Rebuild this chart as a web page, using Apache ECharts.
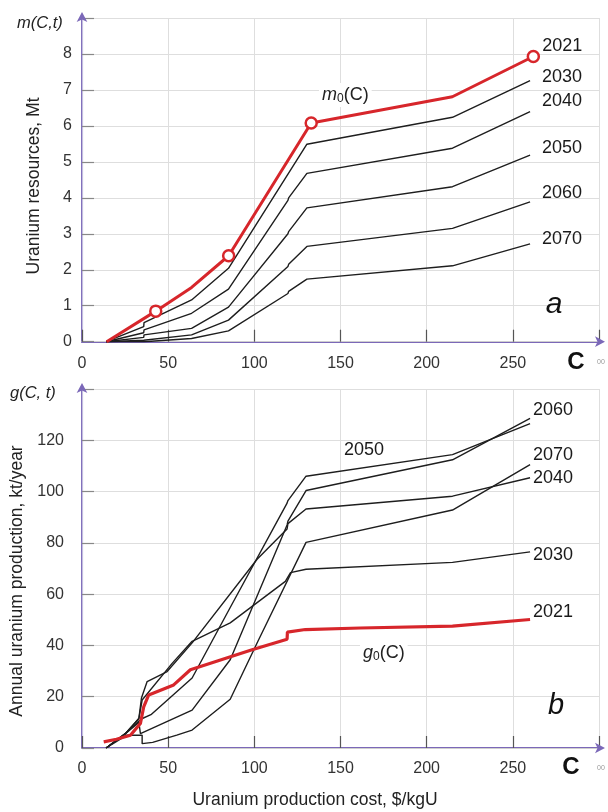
<!DOCTYPE html>
<html><head><meta charset="utf-8">
<script src="https://cdn.jsdelivr.net/npm/echarts@6/dist/echarts.min.js"></script>
<style>html,body{margin:0;padding:0;background:#fff}#c{width:608px;height:812px}</style>
</head><body><div id="c"></div><script>
// ---------- Panel a: uranium resources m(C,t), Mt ----------
const aC_2021 = [14.3, 42.8, 63.6, 85.1, 133, 214.9, 261.9];
const aM_2021 = [0, 0.85, 1.51, 2.39, 6.08, 6.81, 7.93];
const aMarkIdx_2021 = [1, 3, 4, 6];
const aC_2030 = [14, 35.8, 36, 63.6, 85, 130.5, 215, 260];
const aM_2030 = [0, 0.42, 0.53, 1.16, 2.04, 5.49, 6.24, 7.26];
const aC_2040 = [14, 35.8, 36, 63.6, 85, 119.5, 119.9, 130.5, 215, 260];
const aM_2040 = [0, 0.25, 0.33, 0.79, 1.46, 3.93, 4.0, 4.68, 5.38, 6.40];
const aC_2050 = [14, 35.8, 36, 63.6, 85, 119.5, 119.9, 130.5, 215, 260];
const aM_2050 = [0, 0.12, 0.19, 0.37, 0.96, 3.0, 3.06, 3.72, 4.31, 5.19];
const aC_2060 = [14, 35.8, 36, 63.6, 85, 119.5, 119.9, 130.5, 215, 260];
const aM_2060 = [0, 0.04, 0.08, 0.19, 0.60, 2.09, 2.15, 2.65, 3.15, 3.89];
const aC_2070 = [14, 35.8, 36, 63.6, 85, 119.5, 119.9, 130.5, 215, 260];
const aM_2070 = [0, 0, 0.03, 0.09, 0.30, 1.34, 1.40, 1.74, 2.11, 2.72];

// ---------- Panel b: annual uranium production g(C,t), kt/year ----------
const bC_2021 = [12.6, 20, 28.1, 33.9, 35.8, 38.7, 53.2, 62.9, 98.7, 119, 119.2, 129.6, 161.4, 215, 260];
const bG_2021 = [2.4, 3.4, 5, 9.6, 16, 20.7, 24.6, 30.5, 38.3, 42.4, 45.2, 46.2, 46.8, 47.5, 50.1];
const bC_2030 = [14, 25, 33, 34.9, 52.3, 63.9, 86, 118, 121, 130, 215, 260];
const bG_2030 = [0, 5.5, 11.5, 18.7, 33, 41.6, 48.8, 65, 68.4, 69.7, 72.4, 76.5];
const bC_2040 = [14, 25, 33, 34.5, 37.8, 49.4, 63.9, 101.6, 119, 119.5, 130, 215, 260];
const bG_2040 = [0, 5.5, 11.5, 19.5, 25.9, 29.8, 41, 73.6, 85.4, 87.5, 93.2, 98.2, 105.4];
const bC_2050 = [14, 25, 33, 35, 40, 63.9, 86, 119, 119.5, 130, 215, 260];
const bG_2050 = [0, 5.5, 10.5, 11.5, 13, 27.3, 54.8, 95.5, 96.5, 106, 114.4, 126.5];
const bC_2060 = [14, 25, 33, 33.9, 33.9, 63.9, 86, 119, 119.5, 130, 215, 260];
const bG_2060 = [0, 5.5, 10, 10.3, 5.6, 14.8, 34.4, 87, 88.5, 100.4, 112.4, 128.5];
const bC_2070 = [14, 26, 34.9, 34.9, 41, 55, 63.9, 86, 102.5, 130, 215, 260];
const bG_2070 = [0, 5, 5, 1.7, 2.2, 5, 7, 19, 42.2, 80.2, 92.8, 110.5];

// ---------- Axes ----------
const xTicksMax = 300, xInterval = 50;
const aYMax = 9, aYInterval = 1;
const bYMax = 140, bYInterval = 20;

const FONT = '"Liberation Sans", Arial, sans-serif';
const PURPLE = '#7b68b8';
const RED = '#d7262b';
const BLACK = '#1e1e1e';

const zip = (xs, ys) => xs.map((x, i) => [x, ys[i]]);

function blackLine(name, xs, ys, gi, dx, dy, fs) {
  return {
    name, type: 'line', xAxisIndex: gi * 2, yAxisIndex: gi * 2,
    data: zip(xs, ys), symbol: 'none', z: 3,
    lineStyle: { color: BLACK, width: 1.4 },
    endLabel: { show: true, formatter: name, distance: 0, offset: [dx, dy], align: 'left',
      verticalAlign: 'middle', color: '#1a1a1a', fontSize: fs, fontFamily: FONT }
  };
}

function xAxes(gi, margin) {
  return [{
    gridIndex: gi, type: 'value', min: 0, max: xTicksMax, interval: xInterval,
    axisLine: { show: true, onZero: false, symbol: ['none', 'arrow'], symbolSize: [8, 10], symbolOffset: [0, 6],
      lineStyle: { color: PURPLE, width: 2 } },
    axisTick: { show: true, inside: true, length: 12, lineStyle: { color: '#555', width: 1.2 } },
    axisLabel: { formatter: v => (v === xTicksMax ? '' : v), fontSize: 16, color: '#333', margin, fontFamily: FONT },
    splitLine: { show: true, lineStyle: { color: '#dedede', width: 1 } }
  }, {
    gridIndex: gi, type: 'value', position: 'top', min: 0, max: xTicksMax,
    axisLine: { show: true, lineStyle: { color: '#cfcfcf', width: 1.2 } },
    axisTick: { show: false }, axisLabel: { show: false }, splitLine: { show: false }
  }];
}
function yAxes(gi, max, interval, margin) {
  return [{
    gridIndex: gi, type: 'value', min: 0, max, interval,
    axisLine: { show: true, onZero: false, symbol: ['none', 'arrow'], symbolSize: [8, 10], symbolOffset: [0, 6],
      lineStyle: { color: PURPLE, width: 2 } },
    axisTick: { show: true, inside: true, length: 12, lineStyle: { color: '#888', width: 1.2 } },
    axisLabel: { formatter: v => (v === max ? '' : v), fontSize: 16, color: '#333', margin, fontFamily: FONT },
    splitLine: { show: true, lineStyle: { color: '#dedede', width: 1 } }
  }, {
    gridIndex: gi, type: 'value', position: 'right', min: 0, max,
    axisLine: { show: true, lineStyle: { color: '#c4bedf', width: 1.2 } },
    axisTick: { show: false }, axisLabel: { show: false }, splitLine: { show: false }
  }];
}

const txt = (x, y, text, extra) => ({ type: 'text', x, y, z: 50,
  style: Object.assign({ text, fontFamily: FONT, fontSize: 17, fill: '#222', textVerticalAlign: 'middle' }, extra) });

const chart = echarts.init(document.getElementById('c'), null, { renderer: 'canvas' });
chart.setOption({
  animation: false,
  backgroundColor: '#fff',
  grid: [
    { left: 82, right: 9, top: 18, height: 323.7 },
    { left: 82, right: 9, top: 389, height: 359 }
  ],
  xAxis: [...xAxes(0, 14), ...xAxes(1, 13)],
  yAxis: [...yAxes(0, aYMax, aYInterval, 10), ...yAxes(1, bYMax, bYInterval, 18)],
  series: [
    blackLine('2030', aC_2030, aM_2030, 0, 12, -4, 18),
    blackLine('2040', aC_2040, aM_2040, 0, 12, -10, 18),
    blackLine('2050', aC_2050, aM_2050, 0, 12, -7, 18),
    blackLine('2060', aC_2060, aM_2060, 0, 12, -9, 18),
    blackLine('2070', aC_2070, aM_2070, 0, 12, -5, 18),
    {
      name: '2021', type: 'line', xAxisIndex: 0, yAxisIndex: 0, data: zip(aC_2021, aM_2021),
      symbol: 'none', z: 5, lineStyle: { color: RED, width: 3 },
      endLabel: { show: true, formatter: '2021', distance: 0, offset: [9, -10], align: 'left',
        verticalAlign: 'middle', color: '#1a1a1a', fontSize: 18, fontFamily: FONT }
    },
    {
      type: 'scatter', xAxisIndex: 0, yAxisIndex: 0, z: 6,
      data: aMarkIdx_2021.map(i => [aC_2021[i], aM_2021[i]]),
      symbol: 'circle', symbolSize: 11,
      itemStyle: { color: '#fff', borderColor: RED, borderWidth: 2.5, opacity: 1 }
    },
    blackLine('2030', bC_2030, bG_2030, 1, 3, 3, 18),
    blackLine('2040', bC_2040, bG_2040, 1, 3, 0, 18),
    Object.assign(blackLine('2050', bC_2050, bG_2050, 1, 3, 0, 18), { endLabel: { show: false } }),
    blackLine('2060', bC_2060, bG_2060, 1, 3, -8, 18),
    blackLine('2070', bC_2070, bG_2070, 1, 3, -10, 18),
    {
      name: '2021', type: 'line', xAxisIndex: 2, yAxisIndex: 2, data: zip(bC_2021, bG_2021),
      symbol: 'none', z: 5, lineStyle: { color: RED, width: 3.2 },
      endLabel: { show: true, formatter: '2021', distance: 0, offset: [3, -7], align: 'left',
        verticalAlign: 'middle', color: '#1a1a1a', fontSize: 18, fontFamily: FONT }
    }
  ],
  graphic: [
    // axis names
    txt(17, 23, '', { text: '{i|m}(C,{i|t})', rich: { i: { fontStyle: 'italic', fontSize: 16.5, fontFamily: FONT } }, fontSize: 16.5, fontStyle: 'italic' }),
    txt(10, 393, '', { text: '{i|g}(C, {i|t})', rich: { i: { fontStyle: 'italic', fontSize: 16.5, fontFamily: FONT } }, fontSize: 16.5, fontStyle: 'italic' }),
    { type: 'text', x: 34, y: 186, rotation: Math.PI / 2, z: 50,
      style: { text: 'Uranium resources, Mt', fontFamily: FONT, fontSize: 17.5, fill: '#222', textAlign: 'center', textVerticalAlign: 'middle' } },
    { type: 'text', x: 17, y: 581, rotation: Math.PI / 2, z: 50,
      style: { text: 'Annual uranium production, kt/year', fontFamily: FONT, fontSize: 17.5, fill: '#222', textAlign: 'center', textVerticalAlign: 'middle' } },
    txt(315, 800, 'Uranium production cost, $/kgU', { textAlign: 'center', fontSize: 17.5 }),
    // C axis symbol
    txt(576, 362, 'C', { textAlign: 'center', fontSize: 24, fontWeight: 'bold', fill: '#111' }),
    txt(571, 767, 'C', { textAlign: 'center', fontSize: 24, fontWeight: 'bold', fill: '#111' }),
    txt(597, 362, '00', { fontSize: 7, fill: '#999' }),
    txt(597, 768, '00', { fontSize: 7, fill: '#999' }),
    // panel letters
    txt(554, 305, 'a', { textAlign: 'center', fontSize: 30, fontStyle: 'italic', fill: '#111' }),
    txt(556, 706, 'b', { textAlign: 'center', fontSize: 29, fontStyle: 'italic', fill: '#111' }),
    // curve names
    txt(319, 95, '', { text: '{i|m}{s|0}(C)', rich: { i: { fontStyle: 'italic', fontSize: 18, fontFamily: FONT }, s: { fontSize: 12, fontFamily: FONT, padding: [8, 0, 0, 0] } },
      fontSize: 18, backgroundColor: '#fff', padding: [2, 3] }),
    txt(360, 653, '', { text: '{i|g}{s|0}(C)', rich: { i: { fontStyle: 'italic', fontSize: 18, fontFamily: FONT }, s: { fontSize: 12, fontFamily: FONT, padding: [8, 0, 0, 0] } },
      fontSize: 18, backgroundColor: '#fff', padding: [2, 3] }),
    txt(344, 450, '2050', { fontSize: 18, fill: '#1a1a1a' })
  ]
});
</script></body></html>
